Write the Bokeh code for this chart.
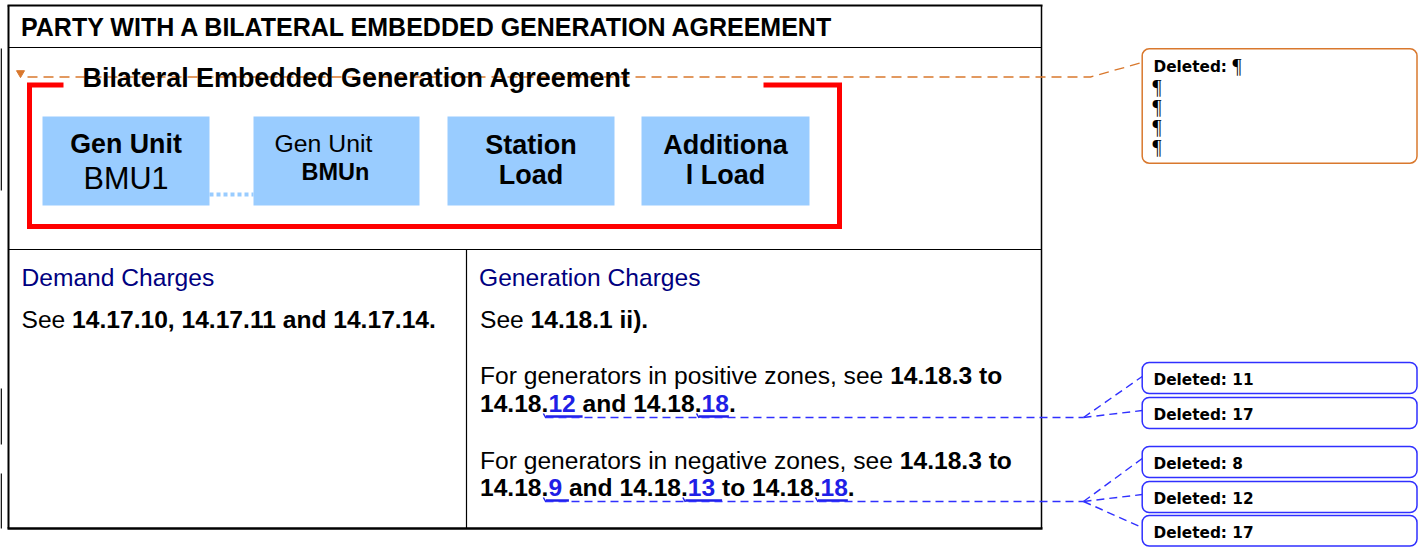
from bokeh.plotting import figure
from bokeh.models import Range1d
from bokeh.core.properties import value
from bokeh.embed import file_html
from bokeh.resources import INLINE

# ---------------- content ----------------
title_text = "PARTY WITH A BILATERAL EMBEDDED GENERATION AGREEMENT"
agreement_text = "Bilateral Embedded Generation Agreement"
unit_top = ["Gen Unit", "Gen Unit", "Station", "Additiona"]
unit_bottom = ["BMU1", "BMUn", "Load", "l Load"]
unit_top_bold = [True, False, True, True]
unit_bottom_bold = [False, True, True, True]
demand_heading = "Demand Charges"
generation_heading = "Generation Charges"
demand_lines = [[("See ", "n"), ("14.17.10, 14.17.11 and 14.17.14.", "b")]]
generation_lines = [
    [("See ", "n"), ("14.18.1 ii).", "b")],
    [("For generators in positive zones, see ", "n"), ("14.18.3 to", "b")],
    [("14.18.", "b"), ("12 ", "ins"), ("and 14.18.", "b"), ("18", "ins"), (".", "b")],
    [("For generators in negative zones, see ", "n"), ("14.18.3 to", "b")],
    [("14.18.", "b"), ("9 ", "ins"), ("and 14.18.", "b"), ("13 ", "ins"),
     ("to 14.18.", "b"), ("18", "ins"), (".", "b")],
]
deleted_label = "Deleted:"
deleted_first = "\u00b6"
deleted_pilcrows = ["\u00b6", "\u00b6", "\u00b6", "\u00b6"]
deleted_positive = ["11", "17"]
deleted_negative = ["8", "12", "17"]

# ---------------- layout / style ----------------
W, H = 1418, 547
SANS = "Liberation Sans"
BODY = 24.6
BLUEBOX = "#99CCFF"
NAVY = "#000080"
INS = "#1F1FE6"
ORANGE = "#D9782D"
CBLUE = "#3030FF"
RED = "#FF0000"

# Helvetica / Arial metrics (1/1000 em)
REG = {' ': 278, '(': 333, ')': 333, ',': 278, '.': 278, ':': 278}
BOLD = {' ': 278, '(': 333, ')': 333, ',': 278, '.': 278, ':': 333}
for d in "0123456789":
    REG[d] = 556
    BOLD[d] = 556
REG.update(dict(zip("abcdefghijklmnopqrstuvwxyz",
                    [556, 556, 500, 556, 556, 278, 556, 556, 222, 222, 500, 222, 833,
                     556, 556, 556, 556, 333, 500, 278, 556, 500, 722, 500, 500, 500])))
BOLD.update(dict(zip("abcdefghijklmnopqrstuvwxyz",
                     [556, 611, 556, 611, 556, 333, 611, 611, 278, 278, 556, 278, 889,
                      611, 611, 611, 611, 389, 556, 333, 611, 556, 778, 556, 556, 500])))
CAPS = dict(zip("ABCDEFGHIJKLMNOPQRSTUVWXYZ",
                [667, 667, 722, 722, 667, 611, 778, 722, 278, 500, 667, 556, 833,
                 722, 778, 667, 778, 722, 667, 611, 722, 667, 944, 667, 667, 611]))
REG.update(CAPS)
BOLD.update(CAPS)


def text_width(s, bold, size):
    table = BOLD if bold else REG
    return sum(table.get(c, 556) for c in s) * size / 1000.0


p = figure(width=W, height=H, x_range=Range1d(0, W), y_range=Range1d(H, 0),
           output_backend="svg", toolbar_location=None, min_border=0,
           x_axis_location=None, y_axis_location=None)
p.grid.visible = False
p.outline_line_color = None
p.background_fill_color = "white"
p.border_fill_color = "white"


def txt(x, base, s, size, bold=False, color="black", font=SANS, align="left"):
    # place by baseline: convert to the middle of the em box
    p.text(x=[x], y=[base - 0.35 * size], text=[s], text_font=value(font),
           text_font_size=value(f"{size}px"),
           text_font_style="bold" if bold else "normal",
           text_color=color, text_baseline="middle", text_align=align)


# page-edge stubs at the far left
p.segment(x0=[0.7, 0.7, 0.7], y0=[48, 388, 473], x1=[0.7, 0.7, 0.7], y1=[190, 444, 528],
          line_color="black", line_width=1.4)

# outer table
p.segment(x0=[7, 7, 8, 1041], y0=[5, 528, 5, 5], x1=[1042, 1042, 8, 1041], y1=[5, 528, 528, 528],
          line_color="black", line_width=[2, 2.5, 2, 1.5])
p.segment(x0=[8, 8, 466], y0=[47, 249, 249], x1=[1041, 1041, 466], y1=[47, 249, 528],
          line_color="black", line_width=1.2)

# header
txt(20.5, 35, title_text, 25, bold=True)

# tracked-change connector for agreement title
p.line([27, 1090, 1141.7], [76.5, 76.5, 62], line_color=ORANGE, line_width=1.3, line_dash="10 6")
p.scatter([20], [72.5], marker="inverted_triangle", size=8, color=ORANGE)

# red bracket
p.line([63, 29, 29, 839, 839, 763], [84.5, 84.5, 226, 226, 84.5, 84.5],
       line_color=RED, line_width=5, line_join="miter")
txt(82, 86.5, agreement_text, 26.9, bold=True)

# unit boxes
box_l = [42, 253, 447, 641]
box_r = [209, 419, 614, 809]
p.quad(left=box_l, right=box_r, top=[116] * 4, bottom=[205] * 4,
       fill_color=BLUEBOX, line_color=None)
p.line([209, 253], [194, 194], line_color=BLUEBOX, line_width=4, line_dash="4 3")

top_x = [125.5, 274, 530.5, 725]
bot_x = [125.5, 301, 530.5, 725]
align = ["center", "left", "center", "center"]
top_y = [152.7, 151.7, 153.5, 153.5]
top_size = [26.8, 24.8, 27, 27]
bot_y = [188, 180, 184, 184]
bot_size = [30.6, 23.5, 27, 27]
for i in range(4):
    txt(top_x[i], top_y[i], unit_top[i], top_size[i], bold=unit_top_bold[i], align=align[i])
    txt(bot_x[i], bot_y[i], unit_bottom[i], bot_size[i], bold=unit_bottom_bold[i], align=align[i])

# headings
txt(21, 286, demand_heading, BODY, color=NAVY)
txt(478.5, 286, generation_heading, BODY, color=NAVY)


def draw_runs(x, y, runs):
    for s, kind in runs:
        bold = kind != "n"
        color = INS if kind == "ins" else "black"
        w = text_width(s, bold, BODY)
        txt(x, y, s, BODY, bold=bold, color=color)
        if kind == "ins":
            p.segment(x0=[x - 2.5], y0=[y + 4], x1=[x + w], y1=[y + 4], line_color=INS, line_width=2.5)
            p.segment(x0=[x - 5], y0=[y + 1], x1=[x - 2.5], y1=[y + 5.5], line_color=INS, line_width=1.5)
        x += w


draw_runs(21, 328, demand_lines[0])
gen_y = [327.5, 383.8, 412, 468.8, 496]
for ln, yy in zip(generation_lines, gen_y):
    draw_runs(479.5, yy, ln)

# blue connectors
p.line([545, 1083], [417, 417], line_color=CBLUE, line_width=1.4, line_dash="8 5")
p.multi_line(xs=[[1083, 1141.7], [1083, 1141.7]], ys=[[417, 376], [417, 410]],
             line_color=CBLUE, line_width=1.4, line_dash="8 5")
p.line([545, 1083], [501, 501], line_color=CBLUE, line_width=1.4, line_dash="8 5")
p.multi_line(xs=[[1083, 1141.7], [1083, 1141.7], [1083, 1141.7]], ys=[[501, 458], [501, 494], [501, 527]],
             line_color=CBLUE, line_width=1.4, line_dash="8 5")

# comment balloons
p.quad(left=[1141.7], right=[1416.5], top=[48.3], bottom=[162.7], fill_color="white",
       line_color=ORANGE, line_width=1.5, border_radius=7)
txt(1153, 71.7, deleted_label, 15.3, bold=True, font="DejaVu Sans")
txt(1232, 72.5, deleted_first, 20, font="Liberation Serif")
for k, s in enumerate(deleted_pilcrows):
    txt(1152, 93 + 20 * k, s, 20, font="Liberation Serif")

blue_tops = [362, 397, 446, 481, 515]
blue_bots = [393, 428, 477, 512, 545.5]
blue_vals = deleted_positive + deleted_negative
p.quad(left=[1141.7] * 5, right=[1416.5] * 5, top=blue_tops, bottom=blue_bots, fill_color="white",
       line_color=CBLUE, line_width=1.5, border_radius=7)
for t, v in zip(blue_tops, blue_vals):
    txt(1153, t + 22.5, f"{deleted_label} {v}", 15.3, bold=True, font="DejaVu Sans")

open("out.html", "w").write(file_html(p, INLINE))
